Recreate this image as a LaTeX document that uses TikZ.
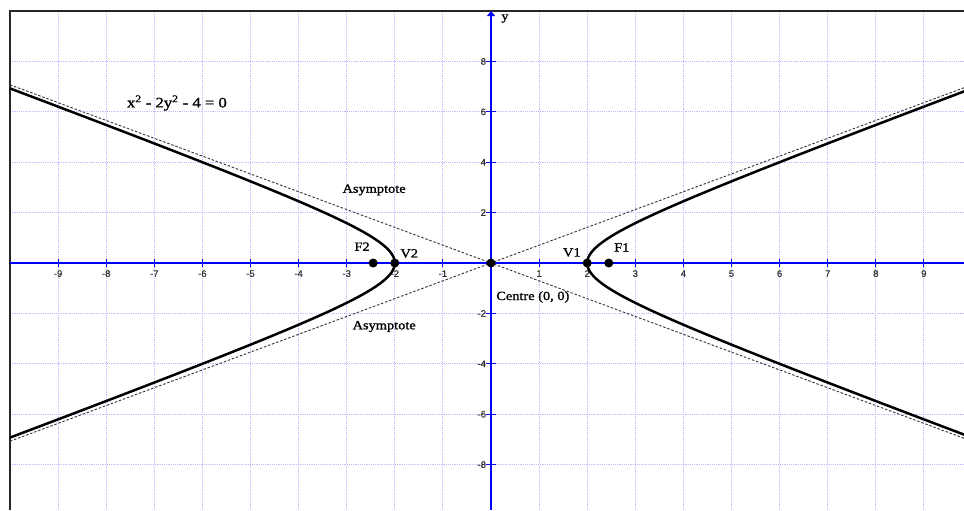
\documentclass[tikz,border=0pt]{standalone}
\usepackage{fontspec}
\setmainfont{Liberation Serif}
\newfontfamily\lblfont[FakeStretch=1.15, FakeBold=1.3]{Liberation Serif}
\newfontfamily\tickfont[FakeBold=0.6]{Liberation Sans}
\usetikzlibrary{arrows.meta}
\definecolor{gridc}{RGB}{190,190,255}
\definecolor{axisc}{RGB}{0,0,255}
\tikzset{
  gridline/.style={draw=gridc, line width=0.9pt, dash pattern=on 1.2pt off 1pt},
  axisline/.style={draw=axisc, line width=1.8pt},
  tickline/.style={draw=axisc, line width=1pt},
  ticklbl/.style={font=\tickfont\fontsize{9.5}{10}\selectfont, text=black!80, inner sep=0pt},
  curve/.style={draw=black, line width=2.5pt},
  asym/.style={draw=black!80, line width=0.9pt, dash pattern=on 2.5pt off 1.8pt},
  dot/.style={circle, fill=black, minimum size=9pt, inner sep=0pt},
  lbl/.style={font=\lblfont\fontsize{12.5}{14}\selectfont, inner sep=0pt},
  frame/.style={draw=black!85, line width=2.6pt}
}
\begin{document}
\begin{tikzpicture}[x=48.1pt,y=25.2pt]
\useasboundingbox (-10.208,-9.802) rectangle (9.834,10.437);
% grid
\begin{scope}
\clip (-10,-9.802) rectangle (9.834,10);
\foreach \i in {-9,...,9} { \draw[gridline] (\i,-9.802) -- (\i,10); }
\foreach \j in {-8,-6,...,8} { \draw[gridline] (-10,\j) -- (9.834,\j); }
\end{scope}
% frame
\draw[frame] (-10,-9.802) -- (-10,10) -- (9.834,10);
% axes
\coordinate (xl) at (-10,0);
\coordinate (xr) at (9.834,0);
\coordinate (yb) at (0,-9.802);
\coordinate (yt) at (0,10.0);
\draw[axisline] (xl) -- (xr);
\draw[axisline, -{Triangle[width=8pt,length=5pt]}] (yb) -- (yt);
\node[font=\lblfont\fontsize{12}{12}\selectfont, inner sep=0pt] (ylab) at (0.29,9.7) {y};
% ticks
\foreach \i in {-9,...,-1,1,2,...,9} {
  \draw[tickline] (\i,-0.17) -- (\i,0.17);
  \node[ticklbl] (xt\i) at (\i,-0.42) {\i};
}
\foreach \j in {-8,-6,...,-2,2,4,...,8} {
  \draw[tickline] (-0.1,\j) -- (0.1,\j);
  \node[ticklbl, anchor=east] (yt\j) at (-0.1,\j) {\j};
}
% asymptotes
\coordinate (a1s) at (-10,7.0711);
\coordinate (a1e) at (9.834,-6.9537);
\coordinate (a2s) at (-10,-7.0711);
\coordinate (a2e) at (9.834,6.9537);
\draw[asym] (a1s) -- (a1e);
\draw[asym] (a2s) -- (a2e);
% hyperbola
\begin{scope}
\clip (-10,-9.802) rectangle (9.834,10);
\draw[curve] plot[domain=-2.35:2.35, samples=140, variable=\t, smooth] ({2*cosh(\t)},{1.41421*sinh(\t)});
\draw[curve] plot[domain=-2.35:2.35, samples=140, variable=\t, smooth] ({-2*cosh(\t)},{1.41421*sinh(\t)});
\end{scope}
% points
\node[dot] (C) at (0,0) {};
\node[dot] (V1) at (2,0) {};
\node[dot] (V2) at (-2,0) {};
\node[dot] (F1) at (2.4495,0) {};
\node[dot] (F2) at (-2.4495,0) {};
% labels
\node[lbl] (lF2) at (-2.68,0.65) {F2};
\node[lbl] (lV2) at (-1.70,0.38) {V2};
\node[lbl] (lV1) at (1.68,0.42) {V1};
\node[lbl] (lF1) at (2.72,0.62) {F1};
\node[lbl] (lC) at (0.87,-1.35) {Centre (0, 0)};
\node[lbl] (lA1) at (-2.43,2.90) {Asymptote};
\node[lbl] (lA2) at (-2.22,-2.52) {Asymptote};
\node[lbl, font=\lblfont\fontsize{14.5}{16}\selectfont] (eq) at (-6.53,6.35) {x\textsuperscript{2} - 2y\textsuperscript{2} - 4 = 0};
\end{tikzpicture}
\end{document}
